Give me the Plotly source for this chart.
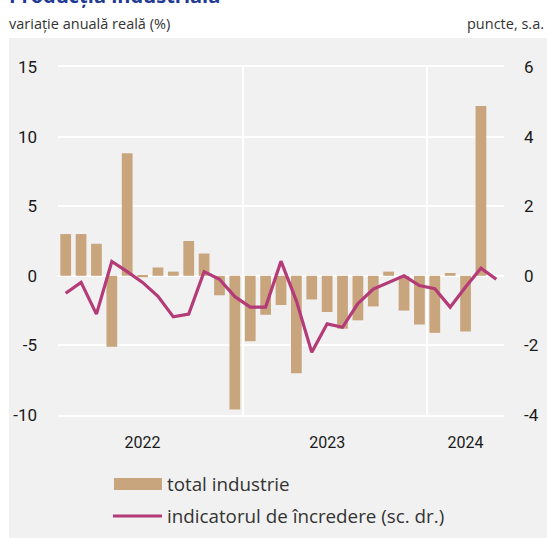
import plotly.graph_objects as go

# ---- data ----
months = ["2022-01","2022-02","2022-03","2022-04","2022-05","2022-06","2022-07","2022-08","2022-09","2022-10","2022-11","2022-12",
          "2023-01","2023-02","2023-03","2023-04","2023-05","2023-06","2023-07","2023-08","2023-09","2023-10","2023-11","2023-12",
          "2024-01","2024-02","2024-03","2024-04","2024-05"]
total_industrie = [3.0, 3.0, 2.3, -5.1, 8.8, -0.1, 0.6, 0.3, 2.5, 1.6, -1.4, -9.6,
                   -4.7, -2.8, -2.1, -7.0, -1.7, -2.6, -3.8, -3.2, -2.2, 0.3, -2.5, -3.5,
                   -4.1, 0.2, -4.0, 12.2, None]
indicator_incredere = [-0.5, -0.19, -1.1, 0.41, 0.12, -0.19, -0.59, -1.18, -1.1, 0.12, -0.1, -0.6,
                       -0.9, -0.9, 0.42, -0.72, -2.2, -1.38, -1.48, -0.8, -0.38, -0.18, 0.0, -0.28,
                       -0.37, -0.9, -0.32, 0.22, -0.1]
year_labels = ["2022", "2023", "2024"]
year_label_pos = [5, 17, 26]
year_breaks = [11.5, 23.5]
left_ticks = [-10, -5, 0, 5, 10, 15]
left_tick_text = ["-10", "-5", "0", "5", "10", "15"]
right_ticks = [-4, -2, 0, 2, 4, 6]
right_tick_text = ["-4", "-2", "0", "2", "4", "6"]

BAR = "#c9a57e"
LINE = "#b43a78"
BG = "#f1f1f1"
TXT = "#1a1a1a"
NUMFONT = "Roboto, sans-serif"
TXTFONT = "Open Sans, Lato, sans-serif"

x = list(range(len(months)))

fig = go.Figure()
fig.add_trace(go.Bar(x=x, y=total_industrie, name="total industrie", marker_color=BAR,
                     marker_line_width=0, width=0.7, hovertext=months, showlegend=False))
fig.add_trace(go.Scatter(x=x, y=indicator_incredere, name="indicatorul de încredere (sc. dr.)",
                         mode="lines", line=dict(color=LINE, width=3.2), yaxis="y2",
                         hovertext=months, showlegend=False))

L, R, T, B = 58, 43, 67, 123
W, H = 547, 538
pw, ph = W - L - R, H - T - B

def px(xp):
    return (xp - L) / pw

def py(yp):
    return (H - B - yp) / ph

fig.update_layout(
    width=W, height=H,
    margin=dict(l=L, r=R, t=T, b=B, pad=0, autoexpand=False),
    paper_bgcolor="white", plot_bgcolor=BG,
    showlegend=False, bargap=0.3,
    xaxis=dict(range=[-0.5, len(months) - 0.5], tickvals=year_label_pos, ticktext=year_labels,
               showgrid=False, zeroline=False, ticks="", ticklabelstandoff=12, automargin=False,
               tickfont=dict(family=NUMFONT, size=16, color=TXT),
               showline=True, linecolor="white", linewidth=2, mirror=True,
               minor=dict(tickvals=year_breaks, showgrid=True, gridcolor="white", gridwidth=2, ticks="")),
    yaxis=dict(range=[-10, 15], tickvals=left_ticks, ticktext=left_tick_text, showgrid=True,
               gridcolor="white", gridwidth=2, automargin=False,
               zeroline=False, ticks="", ticklabelstandoff=20,
               tickfont=dict(family=NUMFONT, size=17, color=TXT)),
    yaxis2=dict(range=[-4, 6], tickvals=right_ticks, ticktext=right_tick_text, overlaying="y",
                side="right", showgrid=False, automargin=False,
                zeroline=False, ticks="", ticklabelstandoff=19,
                tickfont=dict(family=NUMFONT, size=17, color=TXT)),
)

# grey panel behind chart and legend
fig.add_shape(type="rect", xref="paper", yref="paper", x0=px(9), x1=px(560), y0=py(560), y1=py(38),
              fillcolor=BG, line_width=0, layer="below")

# title (partially cut at top, as in the source) and subtitles
fig.add_annotation(text="<b>Producția industrială</b>", xref="paper", yref="paper", x=px(7), y=py(11),
                   xanchor="left", yanchor="bottom", showarrow=False,
                   font=dict(family=TXTFONT, size=20, color="#1f3a93"))
fig.add_annotation(text="variație anuală reală (%)", xref="paper", yref="paper", x=px(7), y=py(24),
                   xanchor="left", yanchor="middle", showarrow=False,
                   font=dict(family=TXTFONT, size=14.5, color="#333333"))
fig.add_annotation(text="puncte, s.a.", xref="paper", yref="paper", x=px(546), y=py(24),
                   xanchor="right", yanchor="middle", showarrow=False,
                   font=dict(family=TXTFONT, size=14.5, color="#333333"))

# legend drawn manually
fig.add_shape(type="rect", xref="paper", yref="paper", x0=px(114), x1=px(162), y0=py(490), y1=py(478),
              fillcolor=BAR, line_width=0)
fig.add_shape(type="line", xref="paper", yref="paper", x0=px(113), x1=px(162), y0=py(516), y1=py(516),
              line=dict(color=LINE, width=3.2))
fig.add_annotation(text="total industrie", xref="paper", yref="paper", x=px(165), y=py(484),
                   xanchor="left", yanchor="middle", showarrow=False,
                   font=dict(family=TXTFONT, size=18.8, color="#333333"))
fig.add_annotation(text="indicatorul de încredere (sc. dr.)", xref="paper", yref="paper", x=px(165), y=py(516),
                   xanchor="left", yanchor="middle", showarrow=False,
                   font=dict(family=TXTFONT, size=18.8, color="#333333"))

fig.write_html("out.html", config={"displayModeBar": False},
               post_script="document.body.style.margin='0';")
